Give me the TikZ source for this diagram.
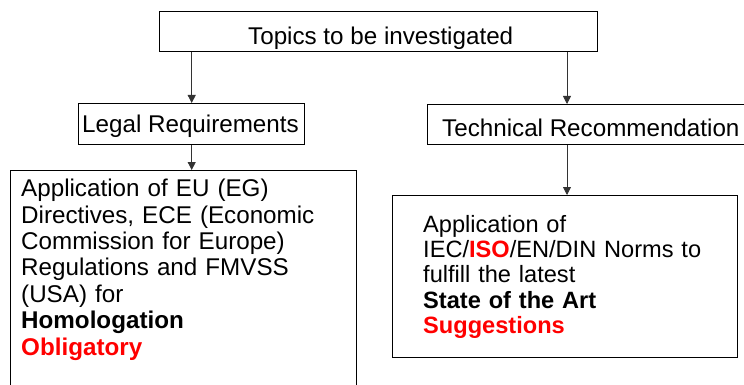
\documentclass[tikz,border=0pt]{standalone}
\usepackage{fontspec}
\setmainfont{Liberation Sans}
\usetikzlibrary{arrows.meta}
\definecolor{hilite}{RGB}{255,0,0}
\tikzset{
  box/.style={draw=black, line width=1.4pt, rectangle, inner sep=0pt, anchor=north west},
  lbl/.style={anchor=base west, inner sep=0pt, font=\fontsize{24.2}{26.4}\selectfont},
  para/.style={anchor=north west, inner sep=0pt, align=left, font=\fontsize{24.2}{26.4}\selectfont},
  arr/.style={draw=black!80, line width=0.8pt, -{Triangle[length=8pt,width=8pt]}},
}
\begin{document}
\begin{tikzpicture}[x=1pt, y=-1pt]
\useasboundingbox (0,0) rectangle (744,385);
\begin{scope}
\clip (0,0) rectangle (744,385);
% boxes
\node[box, minimum width=438pt, minimum height=40pt] (top) at (159,11) {};
\node[box, minimum width=226pt, minimum height=41pt] (legal) at (78,103) {};
\node[box, minimum width=340pt, minimum height=40pt] (tech) at (427,104) {};
\node[box, minimum width=346pt, minimum height=240pt] (lbox) at (10,170) {};
\node[box, minimum width=345pt, minimum height=162pt] (rbox) at (392,195) {};
\end{scope}
% box titles
\node[lbl] (toptxt) at (248,45) {Topics to be investigated};
\node[lbl] (legaltxt) at (82,132) {Legal Requirements};
\node[lbl] (techtxt) at (442,137) {Technical Recommendation};
% box contents
\node[para, text width=330pt] (ltxt) at (21,179) {Application of EU (EG)\\
Directives, ECE (Economic\\
Commission for Europe)\\
Regulations and FMVSS\\
(USA) for\\
\textbf{Homologation}\\
\textcolor{hilite}{\textbf{Obligatory}}};
\node[para, text width=300pt, font=\fontsize{23.6}{25.3}\selectfont] (rtxt) at (423,215) {Application of\\
IEC/\textcolor{hilite}{\textbf{ISO}}/EN/DIN Norms to\\
fulfill the latest\\
\textbf{State of the Art}\\
\textcolor{hilite}{\textbf{Suggestions}}};
% connectors
\coordinate (rx) at (567,0);
\draw[arr] (top.south -| legal.north) -- (legal.north);
\draw[arr] (top.south -| rx) -- (tech.north -| rx);
\draw[arr] (legal.south) -- (lbox.north -| legal.south);
\draw[arr] (tech.south -| rx) -- (rbox.north -| rx);
\end{tikzpicture}
\end{document}
